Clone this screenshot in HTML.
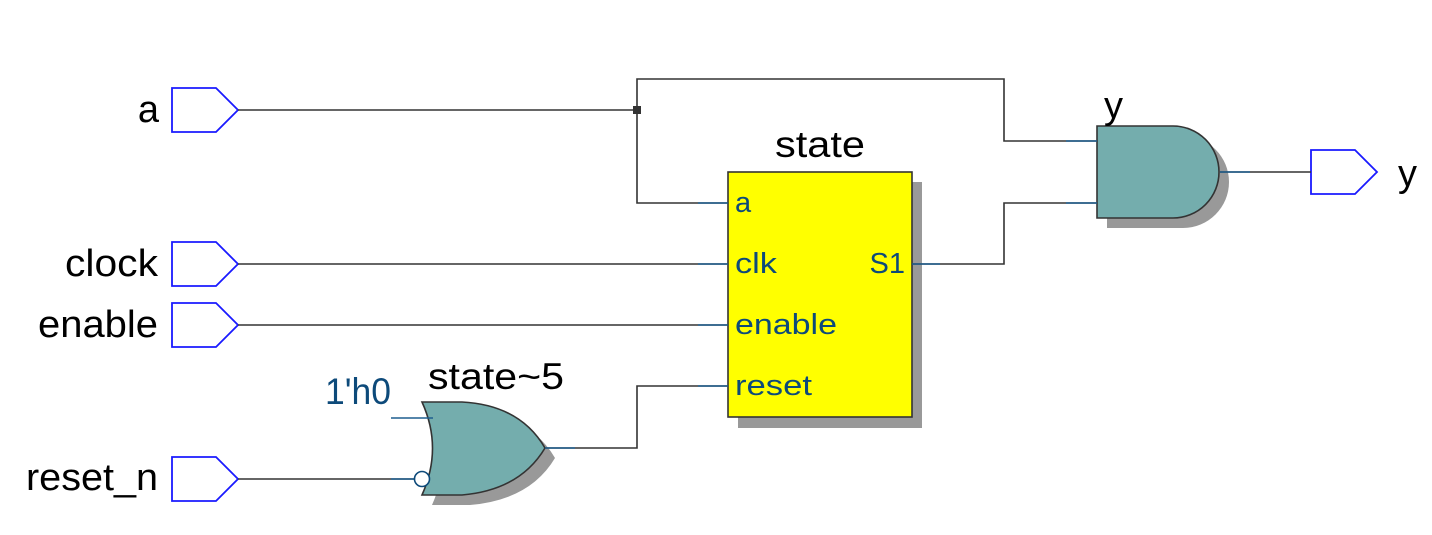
<!DOCTYPE html>
<html><head><meta charset="utf-8"><style>html,body{margin:0;padding:0;background:#fff;}svg{display:block}</style></head>
<body>
<svg width="1432" height="535" viewBox="0 0 1432 535" xmlns="http://www.w3.org/2000/svg" font-family="Liberation Sans, DejaVu Sans, sans-serif">
<rect width="1432" height="535" fill="#fff"/>
<!-- input ports -->
<g fill="#fff" stroke="#1a1aff" stroke-width="1.8">
<polygon points="172,88 216,88 238,110 216,132 172,132"/>
<polygon points="172,242 216,242 238,264 216,286 172,286"/>
<polygon points="172,303 216,303 238,325 216,347 172,347"/>
<polygon points="172,457 216,457 238,479 216,501 172,501"/>
<polygon points="1311,150 1355,150 1377,172 1355,194 1311,194"/>
</g>
<g font-size="38" fill="#000" text-anchor="end">
<text x="159" y="122">a</text>
<text x="158" y="276" textLength="93" lengthAdjust="spacingAndGlyphs">clock</text>
<text x="158" y="337" textLength="120" lengthAdjust="spacingAndGlyphs">enable</text>
<text x="158" y="490" textLength="132" lengthAdjust="spacingAndGlyphs">reset_n</text>
</g>
<text x="1398" y="186" font-size="38">y</text>
<!-- state box -->
<rect x="738" y="182" width="184" height="246" fill="#999"/>
<rect x="728" y="172" width="184" height="245" fill="#ffff00" stroke="#333" stroke-width="1.6"/>
<!-- AND gate -->
<path d="M1107,136 L1183,136 A46,46 0 0 1 1183,228 L1107,228 Z" fill="#999"/>
<path d="M1097,126 L1173,126 A46,46 0 0 1 1173,218 L1097,218 Z" fill="#74adad" stroke="#333" stroke-width="1.6"/>
<!-- OR gate -->
<path d="M432,412 Q453,458 432,505 L470,505 Q530,500 555,458 Q530,415 470,412 Z" fill="#999"/>
<path d="M422,402 Q443,448 422,495 L462,495 Q520,490 545,448 Q520,405 462,402 Z" fill="#74adad" stroke="#333" stroke-width="1.6"/>
<!-- wires -->
<g fill="none" stroke="#333" stroke-width="1.6">
<polyline points="238,110 637,110"/>
<polyline points="637,110 637,79 1004,79 1004,141 1097,141"/>
<polyline points="637,110 637,203 728,203"/>
<polyline points="238,264 728,264"/>
<polyline points="238,325 728,325"/>
<polyline points="912,264 1004,264 1004,203 1097,203"/>
<polyline points="238,479 414,479"/>
<polyline points="545,448 637,448 637,386 728,386"/>
<polyline points="1220,172 1311,172"/>
</g>
<g fill="none" stroke="#1f5f8f" stroke-width="1.6">
<line x1="698" y1="203" x2="728" y2="203"/><line x1="698" y1="264" x2="728" y2="264"/>
<line x1="698" y1="325" x2="728" y2="325"/><line x1="698" y1="386" x2="728" y2="386"/>
<line x1="1066" y1="141" x2="1097" y2="141"/><line x1="1066" y1="203" x2="1097" y2="203"/>
<line x1="1220" y1="172" x2="1250" y2="172"/><line x1="545" y1="448" x2="575" y2="448"/>
<line x1="391" y1="418" x2="433" y2="418"/><line x1="391" y1="479" x2="414" y2="479"/>
<line x1="912" y1="264" x2="940" y2="264"/>
</g>
<rect x="633" y="106" width="8" height="8" fill="#333"/>
<circle cx="422" cy="479" r="7.5" fill="#fff" stroke="#0d4a7a" stroke-width="1.6"/>
<text x="820" y="157" font-size="37" text-anchor="middle" textLength="90" lengthAdjust="spacingAndGlyphs">state</text>
<g font-size="29" fill="#0d4a7a">
<text x="735" y="212">a</text>
<text x="735" y="273" textLength="42" lengthAdjust="spacingAndGlyphs">clk</text>
<text x="735" y="334" textLength="102" lengthAdjust="spacingAndGlyphs">enable</text>
<text x="735" y="395" textLength="77" lengthAdjust="spacingAndGlyphs">reset</text>
<text x="905" y="273" text-anchor="end">S1</text>
</g>
<text x="1104" y="118" font-size="38">y</text>
<text x="325" y="404" font-size="37" fill="#0d4a7a" textLength="66" lengthAdjust="spacingAndGlyphs">1'h0</text>
<text x="428" y="389" font-size="37" textLength="136" lengthAdjust="spacingAndGlyphs">state~5</text>
</svg>
</body></html>
